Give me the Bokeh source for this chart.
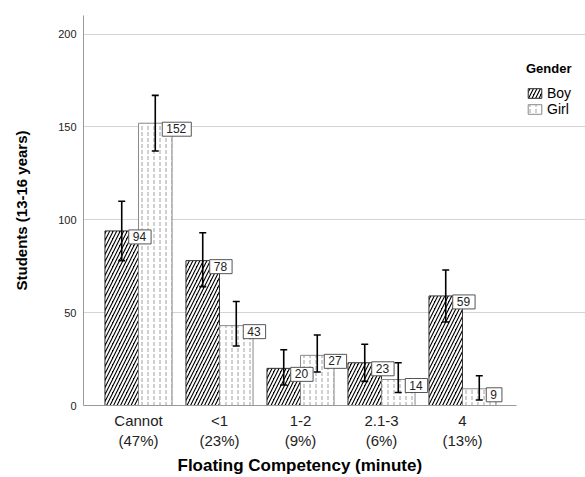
from bokeh.plotting import figure
from bokeh.models import (ColumnDataSource, Range1d, FixedTicker, Whisker, TeeHead,
                          Legend, LegendItem, Title)
from bokeh.embed import file_html
from bokeh.resources import INLINE
from bokeh.core.properties import value

categories = ["Cannot\n(47%)", "<1\n(23%)", "1-2\n(9%)", "2.1-3\n(6%)", "4\n(13%)"]
boy = [94, 78, 20, 23, 59]
girl = [152, 43, 27, 14, 9]
boy_lower = [78, 64, 11, 13, 45]
boy_upper = [110, 93, 30, 33, 73]
girl_lower = [137, 32, 18, 7, 3]
girl_upper = [167, 56, 38, 23, 16]
y_ticks = [0, 50, 100, 150, 200]

FONT = "Liberation Sans"
idx = list(range(len(categories)))
dx = 0.207
bw = 0.414
x0, x1 = -0.679, 4.667          # axis / grid extent
x_end = x0 + 502 / 81.0         # extra room on the right for the legend

boy_src = ColumnDataSource(dict(x=[i - dx for i in idx], top=boy, lower=boy_lower,
                                upper=boy_upper, label=[str(v) for v in boy]))
girl_src = ColumnDataSource(dict(x=[i + dx for i in idx], top=girl, lower=girl_lower,
                                 upper=girl_upper, label=[str(v) for v in girl]))

p = figure(width=585, height=477, output_backend="svg", toolbar_location=None,
           x_range=Range1d(x0, x_end), y_range=Range1d(0, 210),
           min_border_left=83, min_border_right=0, min_border_top=15, min_border_bottom=71)
p.outline_line_color = None
p.background_fill_color = "white"
p.border_fill_color = "white"

rb = p.vbar(x="x", top="top", width=bw, source=boy_src, fill_color="black",
            line_color="#333333", line_width=1,
            hatch_pattern="right_diagonal_line", hatch_color="white",
            hatch_scale=7, hatch_weight=2)
rg = p.vbar(x="x", top="top", width=bw, source=girl_src, fill_color="white",
            line_color="#8a8a8a", line_width=1,
            hatch_pattern="vertical_dash", hatch_color="#a0a0a0",
            hatch_scale=6, hatch_weight=1)

for src in (boy_src, girl_src):
    w = Whisker(base="x", lower="lower", upper="upper", source=src,
                line_color="black", line_width=1.6, level="overlay",
                upper_head=TeeHead(size=7, line_color="black", line_width=1.6),
                lower_head=TeeHead(size=7, line_color="black", line_width=1.6))
    p.add_layout(w)
    p.text(x="x", y="top", text="label", source=src, x_offset=7, y_offset=6,
           text_font=value(FONT), text_font_size="12px", text_color="#222222",
           text_baseline="middle", text_align="left",
           background_fill_color="white", border_line_color="#555555",
           border_line_width=1, padding=dict(left=4, right=5, top=2, bottom=3))

# axes
p.xaxis.ticker = FixedTicker(ticks=idx)
p.xaxis.bounds = (x0, x1)
p.xaxis.major_label_overrides = {i: c for i, c in enumerate(categories)}
p.xaxis.major_label_text_font = FONT
p.xaxis.major_label_text_font_size = "15px"
p.xaxis.major_label_text_color = "#222222"
p.xaxis.major_tick_line_color = None
p.xaxis.major_tick_out = 0
p.xaxis.major_tick_in = 0
p.xaxis.minor_tick_line_color = None
p.xaxis.axis_line_color = "#999999"
p.xaxis.major_label_standoff = 6

p.add_layout(Title(text="Floating Competency (minute)", align="left", offset=94,
                   text_font=FONT, text_font_style="bold", text_font_size="17px",
                   text_color="black", standoff=5), "below")

p.yaxis.ticker = FixedTicker(ticks=y_ticks)
p.yaxis.major_label_text_font = FONT
p.yaxis.major_label_text_font_size = "11px"
p.yaxis.major_label_text_color = "#222222"
p.yaxis.major_tick_line_color = None
p.yaxis.major_tick_out = 0
p.yaxis.major_tick_in = 0
p.yaxis.minor_tick_line_color = None
p.yaxis.axis_line_color = "#999999"
p.yaxis.major_label_standoff = 7
p.yaxis.axis_label = "Students (13-16 years)"
p.yaxis.axis_label_text_font = FONT
p.yaxis.axis_label_text_font_style = "bold"
p.yaxis.axis_label_text_font_size = "15px"
p.yaxis.axis_label_text_color = "black"
p.yaxis.axis_label_standoff = 25

p.xgrid.grid_line_color = None
p.ygrid.grid_line_color = "#d4d4d4"
p.ygrid.grid_line_width = 1
p.ygrid.bounds = (x0, x1)

legend = Legend(items=[LegendItem(label="Boy", renderers=[rb]),
                       LegendItem(label="Girl", renderers=[rg])],
                location=(443, 288), title="Gender",
                title_text_font=FONT, title_text_font_style="bold",
                title_text_font_size="13px", title_standoff=9, title_text_color="black",
                label_text_font=FONT, label_text_font_size="14px", label_text_color="black",
                label_height=12, glyph_height=12, glyph_width=17, label_standoff=4,
                spacing=0, padding=2, margin=0,
                border_line_color=None, background_fill_alpha=0)
p.add_layout(legend, "center")

open("out.html", "w").write(file_html(p, INLINE))
